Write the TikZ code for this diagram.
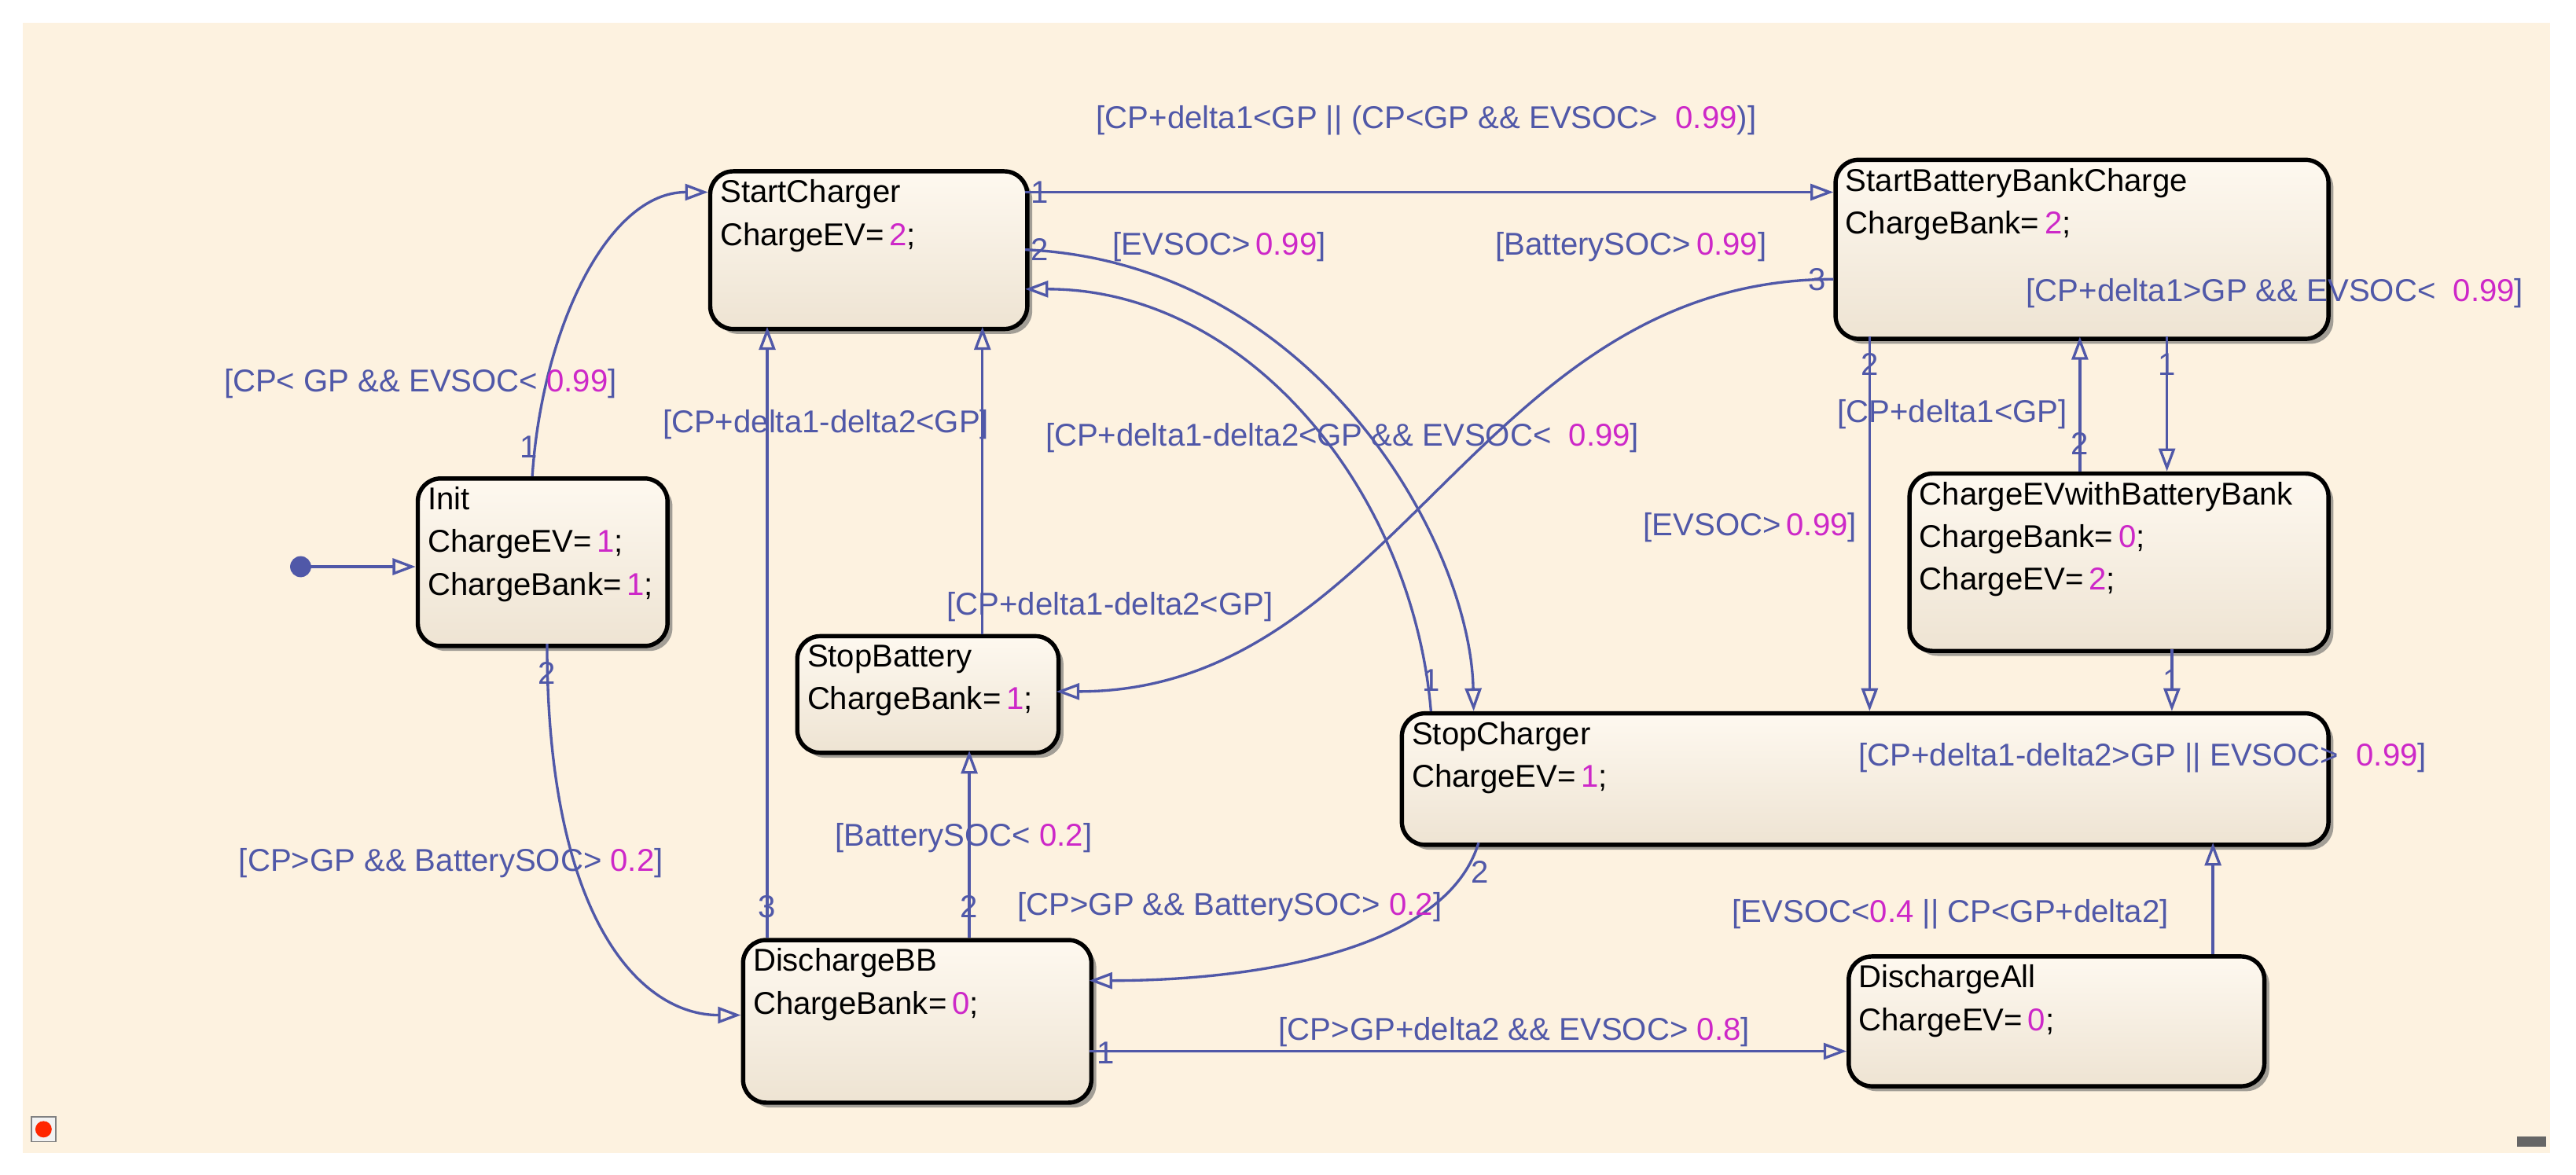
\documentclass[tikz,border=0pt]{standalone}
\usepackage{fontspec}
\setmainfont{Liberation Sans}
\usetikzlibrary{arrows.meta,calc,shadows}
\definecolor{bg}{RGB}{253,242,224}
\definecolor{tr}{RGB}{80,88,168}
\definecolor{mg}{RGB}{205,40,200}
\newcommand{\mgn}[1]{\textcolor{mg}{#1}}
\begin{document}
\begin{tikzpicture}[x=0.5pt,y=-0.5pt,
  font=\fontsize{9.6}{13}\selectfont,
  st/.style={draw=black,line width=1.3pt,rounded corners=7pt,anchor=north west,inner sep=0,
    top color=bg!50!white,bottom color=bg!94!black,
    drop shadow={shadow xshift=1.5pt,shadow yshift=-1.5pt,fill=black!60,opacity=0.6}},
  txt/.style={anchor=north west,inner sep=0,align=left},
  gd/.style={anchor=north west,inner sep=0,text=tr},
  num/.style={inner sep=0,text=tr},
  t/.style={draw=tr,line width=0.8pt,-{Triangle[open,length=7pt,width=5pt]}}]
\fill[white] (0,0) rectangle (1568,715);
\fill[bg] (14,14) rectangle (1552,702);
% states
\node[st,minimum width=76pt,minimum height=51pt] (init) at (253,290) {};
\node[txt] at ($(init.north west)+(7,6)$) {Init\\ChargeEV=\,\mgn{1};\\ChargeBank=\,\mgn{1};};
\node[st,minimum width=96.5pt,minimum height=48pt] (sc) at (431,103) {};
\node[txt] at ($(sc.north west)+(7,6)$) {StartCharger\\ChargeEV=\,\mgn{2};};
\node[st,minimum width=79.5pt,minimum height=35.5pt] (sb) at (484,386) {};
\node[txt] at ($(sb.north west)+(7,6)$) {StopBattery\\ChargeBank=\,\mgn{1};};
\node[st,minimum width=106pt,minimum height=49.5pt] (dbb) at (451,571) {};
\node[txt] at ($(dbb.north west)+(7,6)$) {DischargeBB\\ChargeBank=\,\mgn{0};};
\node[st,minimum width=150pt,minimum height=54.5pt] (sbbc) at (1116,96) {};
\node[txt] at ($(sbbc.north west)+(7,6)$) {StartBatteryBankCharge\\ChargeBank=\,\mgn{2};};
\node[st,minimum width=127.5pt,minimum height=54pt] (cev) at (1161,287) {};
\node[txt] at ($(cev.north west)+(7,6)$) {ChargeEVwithBatteryBank\\ChargeBank=\,\mgn{0};\\ChargeEV=\,\mgn{2};};
\node[st,minimum width=282pt,minimum height=40pt] (stc) at (852,433) {};
\node[txt] at ($(stc.north west)+(7,6)$) {StopCharger\\ChargeEV=\,\mgn{1};};
\node[st,minimum width=126.5pt,minimum height=39.5pt] (dall) at (1124,581) {};
\node[txt] at ($(dall.north west)+(7,6)$) {DischargeAll\\ChargeEV=\,\mgn{0};};
% default transition
\fill[tr] (183,345) circle (3.2pt) coordinate (dot);
\draw[t] (dot) -- ($(init.north west)+(0,55)$);
% transitions
\draw[t] ($(init.north west)+(71,0)$) .. controls (330,200) and (370,117) .. ($(sc.north west)+(0,14)$);
\node[num] at (322,272) {1};
\node[gd] at (136,224) {[CP< GP \&\& EVSOC< \mgn{0.99}]};
\draw[t] ($(init.north west)+(80,102)$) .. controls (333,560) and (390,618) .. ($(dbb.north west)+(0,47)$);
\node[num] at (333,410) {2};
\node[gd] at (145,516) {[CP>GP \&\& BatterySOC> \mgn{0.2}]};
\draw[t] ($(dbb.north west)+(16,0)$) -- ($(sc.north west)+(36,96)$);
\node[num] at (467,552) {3};
\node[gd] at (403,249) {[CP+delta1-delta2<GP]};
\draw[t] ($(sb.north west)+(114,0)$) -- ($(sc.north west)+(167,96)$);
\node[gd] at (576,360) {[CP+delta1-delta2<GP]};
\draw[t] ($(dbb.north west)+(139,0)$) -- ($(sb.north west)+(106,71)$);
\node[num] at (590,552) {2};
\node[gd] at (508,501) {[BatterySOC< \mgn{0.2}]};
\draw[t] ($(dbb.north west)+(212,69)$) -- ($(dall.north west)+(0,59)$);
\node[num] at (673,641) {1};
\node[gd] at (778,619) {[CP>GP+delta2 \&\& EVSOC> \mgn{0.8}]};
\draw[t] ($(stc.north west)+(48,80)$) .. controls (880,580) and (760,597) .. ($(dbb.north west)+(212,26)$);
\node[num] at (901,531) {2};
\node[gd] at (619,543) {[CP>GP \&\& BatterySOC> \mgn{0.2}]};
\draw[t] ($(sc.north west)+(193,14)$) -- ($(sbbc.north west)+(0,21)$);
\node[num] at (633,117) {1};
\node[gd] at (667,64) {[CP+delta1<GP || (CP<GP \&\& EVSOC> \ \mgn{0.99})]};
\draw[t] ($(sc.north west)+(193,49)$) .. controls (800,160) and (895,330) .. ($(stc.north west)+(45,0)$);
\node[num] at (633,152) {2};
\node[gd] at (677,141) {[EVSOC>\,\mgn{0.99}]};
\draw[t] ($(stc.north west)+(19,0)$) .. controls (860,300) and (760,176) .. ($(sc.north west)+(193,73)$);
\node[num] at (871,414) {1};
\node[gd] at (636,257) {[CP+delta1-delta2<GP \&\& EVSOC< \ \mgn{0.99}]};
\draw[t] ($(sbbc.north west)+(0,74)$) .. controls (900,170) and (850,421) .. ($(sb.north west)+(159,35)$);
\node[num] at (1106,170) {3};
\node[gd] at (910,141) {[BatterySOC>\,\mgn{0.99}]};
\draw[t] ($(sbbc.north west)+(22,109)$) -- ($(stc.north west)+(286,0)$);
\node[num] at (1138,222) {2};
\node[gd] at (1000,312) {[EVSOC>\,\mgn{0.99}]};
\draw[t] ($(sbbc.north west)+(203,109)$) -- ($(cev.north west)+(158,0)$);
\node[num] at (1319,222) {1};
\node[gd] at (1233,169) {[CP+delta1>GP \&\& EVSOC< \ \mgn{0.99}]};
\draw[t] ($(cev.north west)+(105,0)$) -- ($(sbbc.north west)+(150,109)$);
\node[num] at (1266,270) {2};
\node[gd] at (1118,243) {[CP+delta1<GP]};
\draw[t] ($(cev.north west)+(161,108)$) -- ($(stc.north west)+(470,0)$);
\node[num] at (1322,414) {1};
\node[gd] at (1131,452) {[CP+delta1-delta2>GP || EVSOC> \ \mgn{0.99}]};
\draw[t] ($(dall.north west)+(223,0)$) -- ($(stc.north west)+(495,80)$);
\node[gd] at (1054,547) {[EVSOC<\mgn{0.4} || CP<GP+delta2]};
% ui icons
\draw[black!50,fill=black!5] (19,680) rectangle (34,695);
\fill[red!70!orange] (26.5,687.5) circle (2.5pt);
\fill[black!60] (1532,692) rectangle (1550,698);
\end{tikzpicture}
\end{document}
